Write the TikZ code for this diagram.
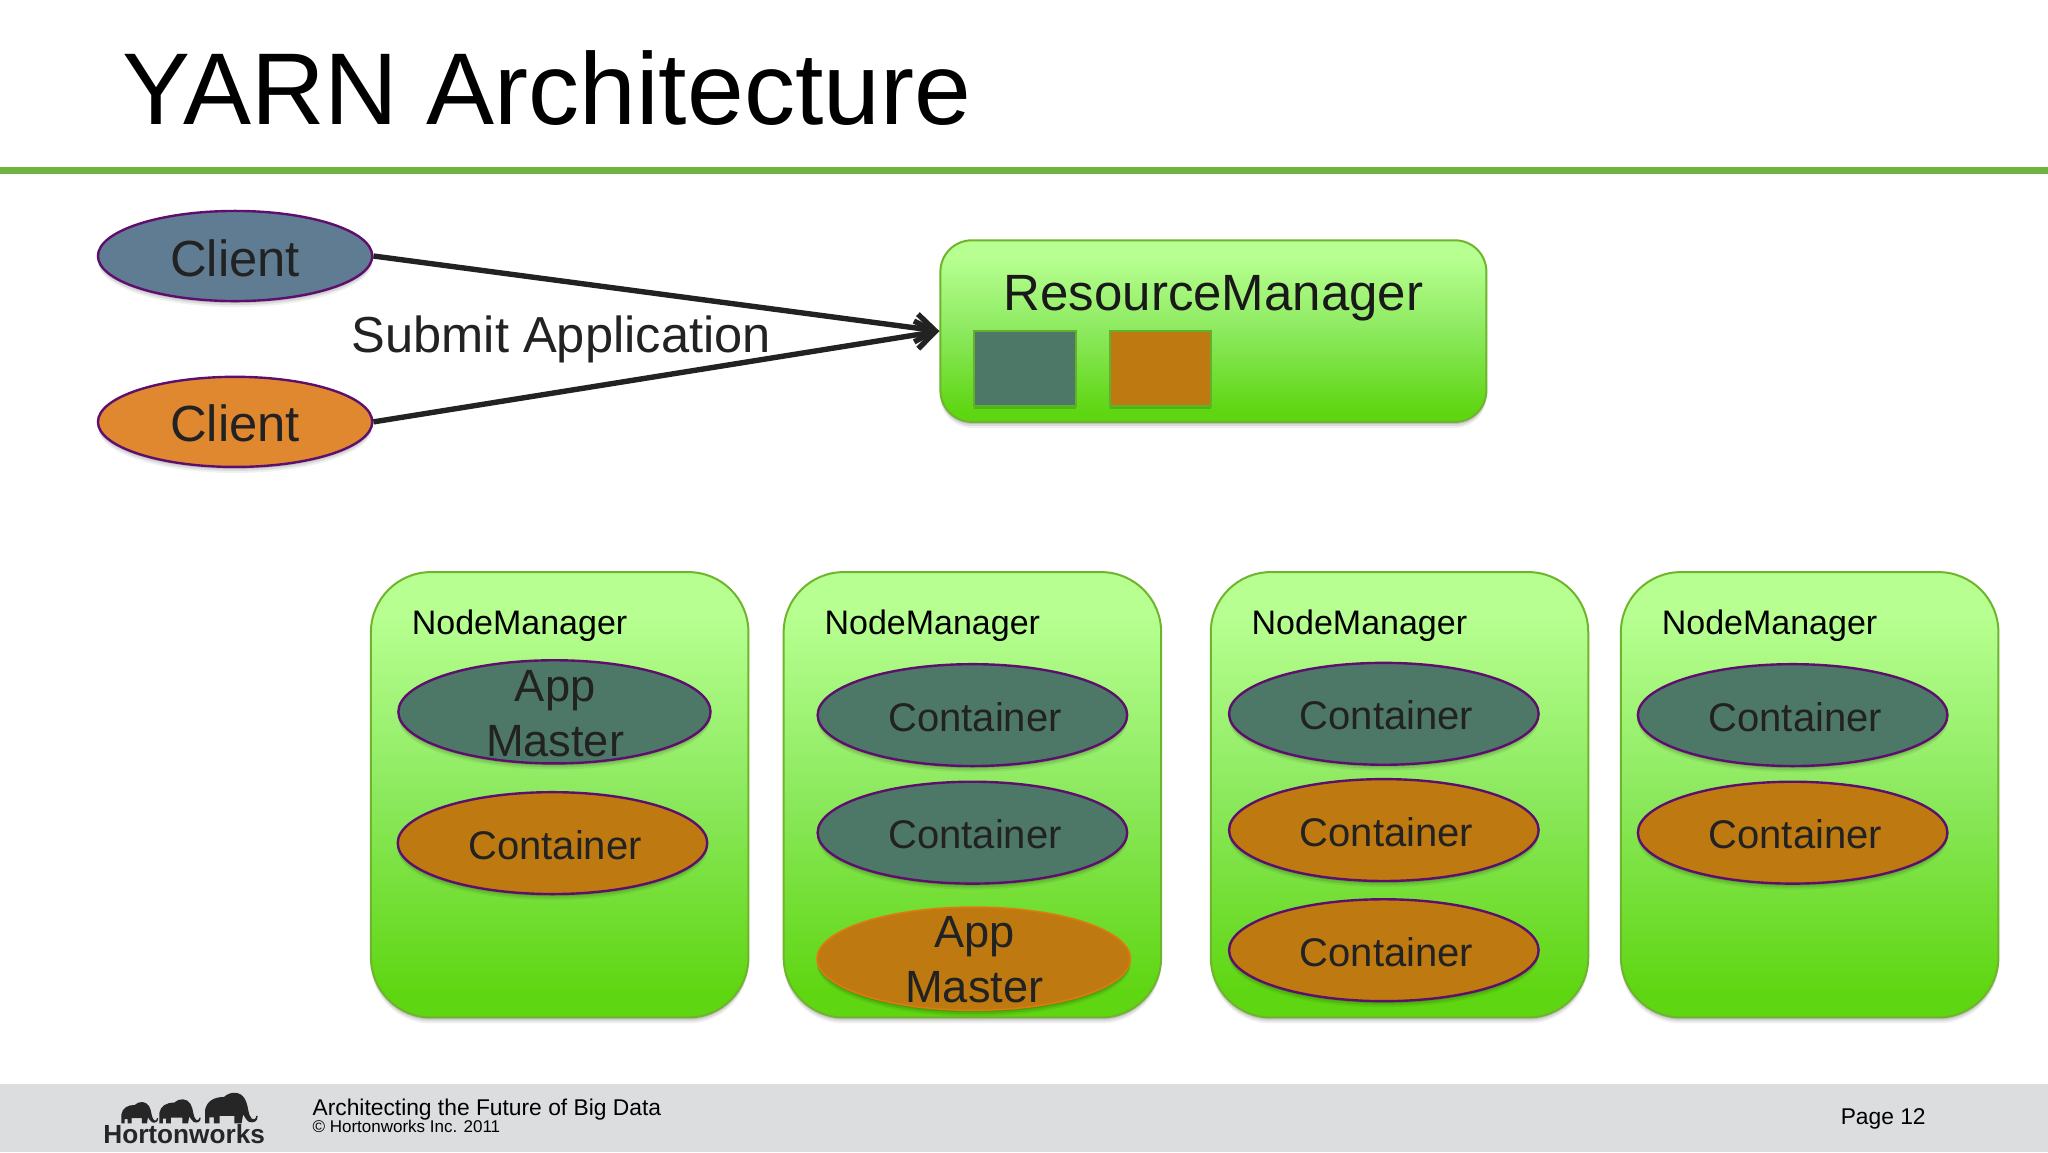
\documentclass[tikz,border=0pt]{standalone}
\usepackage{fontspec}
\setmainfont{Liberation Sans}
\usetikzlibrary{shapes.geometric,arrows.meta,shadows}
\definecolor{inkc}{HTML}{222222}
\definecolor{purp}{HTML}{5E0F6E}
\definecolor{tealc}{HTML}{4D7868}
\definecolor{orangec}{HTML}{BE7A10}
\definecolor{bluec}{HTML}{5F7C92}
\definecolor{brightorange}{HTML}{E08830}
\definecolor{boxedge}{HTML}{6FB52C}
\definecolor{squareedge}{HTML}{62B02C}
\definecolor{gtop}{HTML}{B6FF90}
\definecolor{gmid}{HTML}{8CE95E}
\definecolor{gbot}{HTML}{5FD612}
\definecolor{foot}{HTML}{DCDDDF}
\definecolor{rule}{HTML}{6DB33F}
\definecolor{amring}{HTML}{DE7A10}
\pgfdeclareverticalshading{boxshade}{100bp}{color(0bp)=(gbot); color(28bp)=(gbot); color(50bp)=(gmid); color(70bp)=(gtop); color(100bp)=(gtop)}
\tikzset{
  softshadow/.style={
    drop shadow={shadow xshift=0pt,shadow yshift=-3pt,opacity=.06,fill=black},
    drop shadow={shadow xshift=0pt,shadow yshift=-2pt,opacity=.09,fill=black},
    drop shadow={shadow xshift=0pt,shadow yshift=-1pt,opacity=.12,fill=black}},
  ell/.style n args={3}{ellipse,inner sep=0pt,softshadow,draw=purp,line width=1.2pt,fill=#3,
    minimum width=#1*0.65306pt,minimum height=#2*0.65306pt,text=inkc},
  greenbox/.style n args={3}{rectangle,rounded corners=#3*0.65306pt,draw=boxedge,line width=1pt,
    shading=boxshade,shading angle=0,softshadow,minimum width=#1*0.65306pt,minimum height=#2*0.65306pt},
  square/.style={rectangle,draw=squareedge,line width=1pt,minimum width=78*0.65306pt,minimum height=57*0.65306pt,
    drop shadow={shadow xshift=0pt,shadow yshift=-1.5pt,opacity=.3,fill=black!50!green}},
  clientfont/.style={font=\fontsize{25.4}{30}\selectfont,text height=20.1pt,text depth=0pt},
  contfont/.style={font=\fontsize{20}{24}\selectfont,text height=16pt,text depth=0pt,execute at begin node={\kern2.6pt}},
  nm/.style={anchor=west,inner sep=0pt,font=\fontsize{17}{20}\selectfont,text=black},
  am/.style={align=center,inner sep=0pt,text=inkc,font=\fontsize{22.6}{27.4}\selectfont},
  conn/.style={draw=inkc,line width=2.7pt,-{Straight Barb[length=9.5pt,width=14pt,line width=2.7pt]}},
  eleph/.pic={\fill[black!85] (0,0) -- (0,-9) .. controls (1,-15) and (6,-18) .. (13,-18)
     .. controls (17,-22) and (24,-22) .. (27,-17) .. controls (30,-12) and (29,-6) .. (32,-3)
     .. controls (33,-2) and (35,-3) .. (35,-5) -- (36,-5) .. controls (36,-1) and (33,0) .. (30,-1)
     .. controls (28,-2) and (27,-5) .. (26,-6) -- (25,0) -- (20,0) -- (20,-5) -- (10,-5) -- (10,0) -- (6,0) -- (6,-4) -- (3,-4) -- (3,0) -- cycle;}
}
\begin{document}
\begin{tikzpicture}[x=0.65306pt,y=-0.65306pt]
\useasboundingbox (0,0) rectangle (1568,882);
\fill[white] (0,0) rectangle (1568,882);
\node[anchor=base west,inner sep=0pt,text=black,font=\fontsize{51}{60}\selectfont] (title) at (93.5,95.5) {YARN Architecture};
\fill[rule] (0,128) rectangle (1568,133);
\fill[foot] (0,830) rectangle (1568,882);

% Clients
\node[ell={210}{69}{bluec},clientfont] (c1) at (180,196) {Client};
\node[ell={210}{69}{brightorange},clientfont] (c2) at (180,323) {Client};
\node[anchor=west,inner sep=0pt,text=inkc,font=\fontsize{25.3}{30}\selectfont] (submit) at (269,260) {Submit Application};

% ResourceManager
\node[greenbox={418}{139}{24}] (rm) at (929,253.5) {};
\node[inner sep=0pt,text=black!90,font=\fontsize{25.5}{30}\selectfont] (rmt) at (929,228) {ResourceManager};
\node[square,fill=tealc] (rs1) at (784.5,282) {};
\node[square,fill=orangec] (rs2) at (888.5,282) {};
\draw[conn] (c1.east) -- (rm.west);
\draw[conn] (c2.east) -- (rm.west);

% NodeManagers
\node[greenbox={289}{341}{46}] (nm1) at (428.5,608.5) {};
\node[greenbox={289}{341}{46}] (nm2) at (744.5,608.5) {};
\node[greenbox={289}{341}{46}] (nm3) at (1071.5,608.5) {};
\node[greenbox={289}{341}{46}] (nm4) at (1385.5,608.5) {};
\node[nm] (nm1t) at (315,479) {NodeManager};
\node[nm] (nm2t) at (631,479) {NodeManager};
\node[nm] (nm3t) at (958,479) {NodeManager};
\node[nm] (nm4t) at (1272,479) {NodeManager};

% NM1
\node[ell={239}{79}{tealc}] (a1) at (424.5,545) {};
\node[am] (a1t) at (425,546.5) {App\\Master};
\node[ell={237}{78}{orangec},contfont] (n1b) at (423,645.5) {Container};
% NM2
\node[ell={237}{78}{tealc},contfont] (n2a) at (744.5,547.5) {Container};
\node[ell={237}{78}{tealc},contfont] (n2b) at (744.5,637.5) {Container};
\node[ell={240}{79}{orangec},draw=amring,line width=.8pt] (a2) at (745.5,734) {};
\node[am] (a2t) at (746,735) {App\\Master};
% NM3
\node[ell={237}{78}{tealc},contfont] (n3a) at (1059.5,546.5) {Container};
\node[ell={237}{78}{orangec},contfont] (n3b) at (1059.5,635.5) {Container};
\node[ell={237}{78}{orangec},contfont] (n3c) at (1059.5,727.5) {Container};
% NM4
\node[ell={237}{78}{tealc},contfont] (n4a) at (1372.5,547.5) {Container};
\node[ell={237}{78}{orangec},contfont] (n4b) at (1372.5,637.5) {Container};

% Footer
\pic[scale=.78] at (93,860) {eleph};
\pic[scale=.88] at (122,860) {eleph};
\pic[scale=1.12] at (157,860) {eleph};
\node[anchor=center,inner sep=0pt,text=black!85,font=\bfseries\fontsize{13.1}{15}\selectfont] (logo) at (141,868) {Hortonworks};
\node[anchor=base west,inner sep=0pt,text=black,font=\fontsize{11.4}{13}\selectfont] (ft1) at (239,854) {Architecting the Future of Big Data};
\node[anchor=base west,inner sep=0pt,text=black,font=\fontsize{8.5}{10}\selectfont] (ft2) at (239,867) {© Hortonworks Inc. 2011};
\node[anchor=base west,inner sep=0pt,text=black,font=\fontsize{11.4}{13}\selectfont] (pg) at (1409,861) {Page 12};
\end{tikzpicture}
\end{document}
